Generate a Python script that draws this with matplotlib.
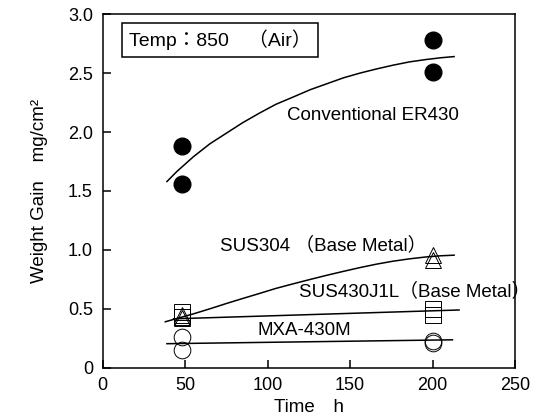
import numpy as np
import matplotlib
matplotlib.use("Agg")
import matplotlib.pyplot as plt
from matplotlib.ticker import FuncFormatter

plt.rcParams['font.family'] = ['Liberation Sans', 'Noto Sans CJK JP', 'DejaVu Sans']

# measured points (two specimens at each time)
t_pts = [48, 48, 200, 200]
er430_pts = [1.88, 1.56, 2.78, 2.51]
sus304_pts = [0.45, 0.42, 0.96, 0.91]
sus430_pts = [0.47, 0.43, 0.50, 0.45]
mxa_pts = [0.26, 0.15, 0.23, 0.21]

# trend curves
er430_cx = [39, 45, 55, 65, 75, 85, 95, 105, 116, 126, 136, 146, 156, 166, 176, 186, 196, 205, 213]
er430_cy = [1.58, 1.665, 1.79, 1.90, 1.99, 2.08, 2.16, 2.235, 2.30, 2.36, 2.41, 2.46, 2.50,
            2.535, 2.567, 2.595, 2.615, 2.63, 2.64]
sus304_cx = [38, 45, 55, 65, 75, 85, 95, 105, 116, 126, 136, 146, 156, 166, 176, 186, 196, 205, 213]
sus304_cy = [0.39, 0.418, 0.457, 0.50, 0.545, 0.588, 0.63, 0.673, 0.714, 0.75, 0.785, 0.818,
             0.85, 0.879, 0.904, 0.924, 0.94, 0.95, 0.955]
sus430_cx = [43, 216]
sus430_cy = [0.415, 0.49]
mxa_cx = [39, 212]
mxa_cy = [0.204, 0.237]

fig = plt.figure(figsize=(5.4, 4.16), dpi=100)
ax = fig.add_axes([0.190, 0.116, 0.764, 0.850])

ax.plot(er430_cx, er430_cy, color='black', lw=1.1)
ax.plot(sus304_cx, sus304_cy, color='black', lw=1.1)
ax.plot(sus430_cx, sus430_cy, color='black', lw=1.1)
ax.plot(mxa_cx, mxa_cy, color='black', lw=1.1)

ms = 12
ax.plot(t_pts, er430_pts, 'o', ms=ms, mfc='black', mec='black', ls='none')
ax.plot(t_pts, sus430_pts, 's', ms=ms, mfc='none', mec='black', mew=0.7, ls='none')
ax.plot(t_pts, sus304_pts, '^', ms=ms, mfc='none', mec='black', mew=0.7, ls='none')
ax.plot(t_pts, mxa_pts, 'o', ms=ms, mfc='none', mec='black', mew=0.7, ls='none')

ax.text(71, 2.78, 'Temp：850　（Air）', fontsize=14, ha='center', va='center',
        bbox=dict(boxstyle='square,pad=0.35', fc='white', ec='black', lw=1.1))
ax.text(112, 2.14, 'Conventional ER430', fontsize=13.5, ha='left', va='center')
ax.text(71, 1.04, 'SUS304 （Base Metal）', fontsize=13.5, ha='left', va='center')
ax.text(119, 0.65, 'SUS430J1L（Base Metal）', fontsize=13.5, ha='left', va='center')
ax.text(94, 0.312, 'MXA-430M', fontsize=13.5, ha='left', va='center')

ax.set_xlim(0, 250)
ax.set_ylim(0, 3.0)
ax.set_xticks([0, 50, 100, 150, 200, 250])
ax.set_yticks([0, 0.5, 1.0, 1.5, 2.0, 2.5, 3.0])
ax.yaxis.set_major_formatter(FuncFormatter(lambda v, p: '0' if v == 0 else '%.1f' % v))
ax.tick_params(direction='in', length=6, width=1.1, labelsize=13, pad=7)

for s in ax.spines.values():
    s.set_linewidth(1.1)

ax.set_xlabel('Time　h', fontsize=13.5, labelpad=3)
ax.set_ylabel('Weight Gain　mg/cm²', fontsize=13.5, labelpad=14)

fig.savefig('out.png', dpi=100)
